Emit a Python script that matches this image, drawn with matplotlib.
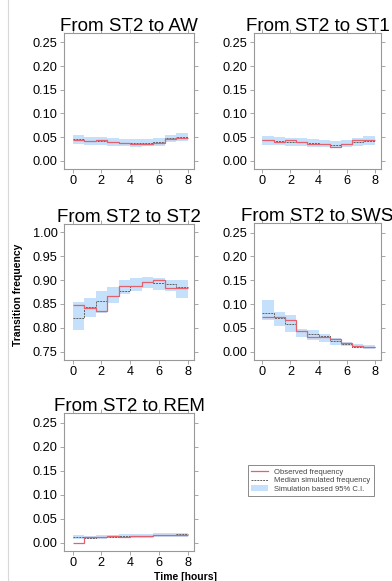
import numpy as np
import matplotlib.pyplot as plt
from matplotlib.lines import Line2D
from matplotlib.patches import Patch

plt.rcParams['font.family'] = ['Liberation Sans', 'DejaVu Sans']

edges = np.linspace(0, 8, 11)

titles = ['From ST2 to AW', 'From ST2 to ST1', 'From ST2 to ST2',
          'From ST2 to SWS', 'From ST2 to REM']

obs_aw = [0.043, 0.042, 0.044, 0.040, 0.038, 0.036, 0.036, 0.037, 0.046, 0.049]
med_aw = [0.045, 0.042, 0.041, 0.040, 0.038, 0.037, 0.038, 0.039, 0.047, 0.050]
lo_aw = [0.036, 0.034, 0.033, 0.032, 0.031, 0.030, 0.031, 0.032, 0.039, 0.042]
hi_aw = [0.054, 0.051, 0.050, 0.048, 0.046, 0.045, 0.046, 0.047, 0.055, 0.058]

obs_st1 = [0.044, 0.040, 0.044, 0.040, 0.035, 0.035, 0.030, 0.035, 0.044, 0.043]
med_st1 = [0.043, 0.042, 0.040, 0.039, 0.037, 0.036, 0.034, 0.035, 0.039, 0.042]
lo_st1 = [0.034, 0.033, 0.032, 0.031, 0.029, 0.028, 0.027, 0.028, 0.031, 0.034]
hi_st1 = [0.053, 0.051, 0.049, 0.047, 0.045, 0.044, 0.042, 0.043, 0.048, 0.052]

obs_st2 = [0.847, 0.841, 0.836, 0.867, 0.888, 0.888, 0.896, 0.900, 0.884, 0.884]
med_st2 = [0.821, 0.843, 0.856, 0.866, 0.877, 0.888, 0.896, 0.893, 0.892, 0.885]
lo_st2 = [0.796, 0.822, 0.832, 0.852, 0.870, 0.878, 0.884, 0.880, 0.877, 0.863]
hi_st2 = [0.855, 0.863, 0.877, 0.885, 0.900, 0.905, 0.907, 0.905, 0.900, 0.900]

obs_sws = [0.072, 0.072, 0.066, 0.043, 0.031, 0.031, 0.027, 0.019, 0.012, 0.010]
med_sws = [0.082, 0.070, 0.057, 0.043, 0.038, 0.033, 0.023, 0.017, 0.010, 0.009]
lo_sws = [0.066, 0.054, 0.042, 0.031, 0.024, 0.021, 0.014, 0.012, 0.007, 0.006]
hi_sws = [0.108, 0.084, 0.077, 0.047, 0.045, 0.038, 0.028, 0.021, 0.016, 0.014]

obs_rem = [0.000, 0.011, 0.012, 0.014, 0.012, 0.014, 0.013, 0.016, 0.016, 0.016]
med_rem = [0.011, 0.010, 0.011, 0.012, 0.013, 0.013, 0.014, 0.015, 0.016, 0.017]
lo_rem = [0.007, 0.007, 0.008, 0.009, 0.009, 0.010, 0.010, 0.011, 0.012, 0.012]
hi_rem = [0.015, 0.014, 0.015, 0.016, 0.017, 0.017, 0.018, 0.019, 0.020, 0.021]

panels = [
    (obs_aw, med_aw, lo_aw, hi_aw),
    (obs_st1, med_st1, lo_st1, hi_st1),
    (obs_st2, med_st2, lo_st2, hi_st2),
    (obs_sws, med_sws, lo_sws, hi_sws),
    (obs_rem, med_rem, lo_rem, hi_rem),
]

red = '#e4606a'
band = '#c4e0fb'
grey = '#999999'

W, H = 392, 581
fig = plt.figure(figsize=(W / 100, H / 100), dpi=100)

# axes boxes in pixels: left, top, right, bottom
boxes = [(64, 33, 194, 169), (254, 33, 381, 169),
         (64, 224, 194, 360), (254, 223, 381, 360),
         (64, 413, 194, 551)]

for i, (obs, med, lo, hi) in enumerate(panels):
    l, t, r, b = boxes[i]
    ax = fig.add_axes([l / W, 1 - b / H, (r - l) / W, (b - t) / H])
    ax.stairs(hi, edges, baseline=lo, fill=True, color=band, lw=0)
    ax.stairs(med, edges, color='#606060', lw=0.7, ls=(0, (2, 1)), baseline=None)
    ax.stairs(obs, edges, color=red, lw=0.9, baseline=None)
    ax.set_xlim(-0.6, 8.45)
    ax.set_xticks([0, 2, 4, 6, 8])
    if i == 2:
        ax.set_ylim(0.733, 1.017)
        ax.set_yticks([0.75, 0.80, 0.85, 0.90, 0.95, 1.00])
    else:
        ax.set_ylim(-0.0175, 0.27)
        ax.set_yticks([0, 0.05, 0.10, 0.15, 0.20, 0.25])
    ax.yaxis.set_major_formatter(plt.FormatStrFormatter('%.2f'))
    ax.tick_params(direction='out', length=3, width=0.6, color=grey,
                   labelsize=9.2, pad=1.5, top=True, right=True)
    for s in ax.spines.values():
        s.set_color(grey)
        s.set_linewidth(0.8)
    ax.set_title(titles[i], fontsize=13.5, pad=1.5)

fig.text(18 / W, 1 - 295 / H, 'Transition frequency', rotation=90,
         ha='center', va='center', fontsize=7.5, fontweight='bold')
fig.text(185 / W, 1 - 577 / H, 'Time [hours]', ha='center', va='center',
         fontsize=7.5, fontweight='bold')

handles = [Line2D([], [], color=red, lw=0.9),
           Line2D([], [], color='#606060', lw=0.7, ls=(0, (2, 1))),
           Patch(facecolor=band, edgecolor='none')]
labels = ['Observed frequency', 'Median simulated frequency',
          'Simulation based 95% C.I.']
leg = fig.legend(handles, labels, loc='upper left',
                 bbox_to_anchor=(248 / W, 1 - 465 / H), fontsize=5.5,
                 fancybox=False, edgecolor='#777777', framealpha=1,
                 handlelength=2.2, handletextpad=0.8, borderpad=0.45,
                 labelspacing=0.15, borderaxespad=0)
for txt in leg.get_texts():
    txt.set_color('#444444')
leg.get_frame().set_linewidth(0.6)

# faint page rule on the left
fig.add_artist(Line2D([8 / W, 8 / W], [0, 1], color='#d8d8d8', lw=0.8))

fig.savefig('out.png', dpi=100)
